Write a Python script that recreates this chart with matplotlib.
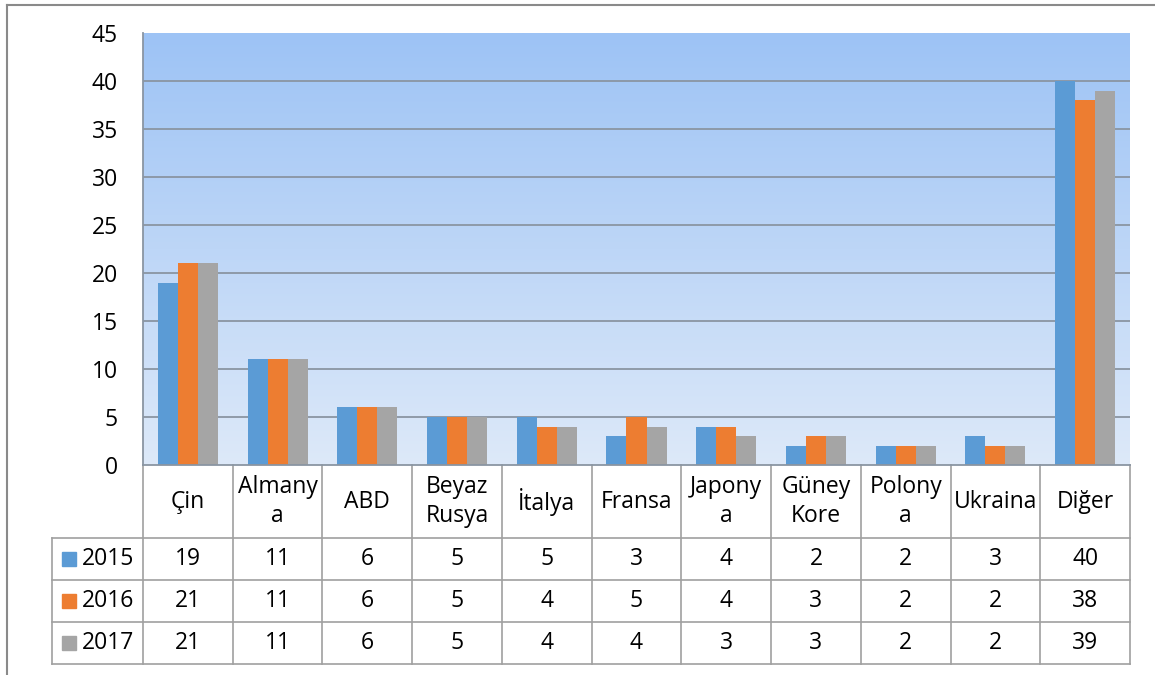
import numpy as np
import matplotlib
matplotlib.use("Agg")
import matplotlib.pyplot as plt
from matplotlib.lines import Line2D
from matplotlib.patches import Rectangle
import matplotlib.transforms as mtransforms

plt.rcParams['font.family'] = ['Open Sans', 'DejaVu Sans']

categories = ["Çin", "Almany\na", "ABD", "Beyaz\nRusya", "İtalya", "Fransa",
              "Japony\na", "Güney\nKore", "Polony\na", "Ukraina", "Diğer"]
years = ["2015", "2016", "2017"]
v2015 = [19, 11, 6, 5, 5, 3, 4, 2, 2, 3, 40]
v2016 = [21, 11, 6, 5, 4, 5, 4, 3, 2, 2, 38]
v2017 = [21, 11, 6, 5, 4, 4, 3, 3, 2, 2, 39]
series = [v2015, v2016, v2017]
colors = ["#5B9BD5", "#ED7D31", "#A5A5A5"]

FS = 16.5
W, H = 1155, 675
fig = plt.figure(figsize=(W / 100, H / 100), dpi=100)

# plot area in pixels
left, top, right, bottom = 143, 33, 1130, 465
ax = fig.add_axes([left / W, 1 - bottom / H, (right - left) / W, (bottom - top) / H])

n = len(categories)
x = np.arange(n)
ax.set_xlim(-0.5, n - 0.5)
ax.set_ylim(0, 45)

# gradient background
grad = np.linspace(0, 1, 256).reshape(-1, 1)
top_c = np.array([157, 195, 245]) / 255
bot_c = np.array([221, 233, 249]) / 255
img = top_c * (1 - grad[..., None]) + bot_c * grad[..., None]
img = np.repeat(img, 2, axis=1)
ax.imshow(img, extent=[-0.5, n - 0.5, 0, 45], aspect='auto', zorder=0)

for y in range(5, 45, 5):
    ax.axhline(y, color="#8A95A2", lw=1.3, zorder=1)

bw = 0.223
for i, (vals, c) in enumerate(zip(series, colors)):
    ax.bar(x + (i - 1) * bw, vals, width=bw, color=c, zorder=2)

for s in ["top", "right"]:
    ax.spines[s].set_visible(False)
ax.spines["left"].set_color("#8A95A2")
ax.spines["bottom"].set_color("#8A95A2")
ax.spines["left"].set_linewidth(1.3)
ax.spines["bottom"].set_linewidth(1.3)
ax.set_xticks([])
ax.set_yticks(range(0, 46, 5))
ax.tick_params(axis='y', length=0, pad=18, labelsize=FS)

# data table under the axis
trans = mtransforms.blended_transform_factory(ax.transData, ax.transAxes)
ah = bottom - top
cat_h = 73 / ah
row_h = 42 / ah
lc = "#A0A0A0"
colw = (right - left) / n
leg_left = -0.5 - 91 / colw

y_cat = -cat_h

def hline(x0, x1, yy):
    ax.add_line(Line2D([x0, x1], [yy, yy], transform=trans, color=lc, lw=1.2, clip_on=False))

def vline(xx, y0, y1):
    ax.add_line(Line2D([xx, xx], [y0, y1], transform=trans, color=lc, lw=1.2, clip_on=False))

hline(leg_left, n - 0.5, y_cat)
for k in range(len(years)):
    hline(leg_left, n - 0.5, y_cat - row_h * (k + 1))
vline(leg_left, y_cat, y_cat - row_h * len(years))
for j in range(n + 1):
    vline(j - 0.5, 0, y_cat - row_h * len(years))

for j, cat in enumerate(categories):
    ax.text(j, -cat_h / 2, cat, transform=trans, ha='center', va='center',
            fontsize=FS, linespacing=1.3, clip_on=False)

for k, (yr, vals, c) in enumerate(zip(years, series, colors)):
    yc = y_cat - row_h * (k + 0.5)
    ax.add_patch(Rectangle((leg_left + 10 / colw, yc - 7 / ah), 14 / colw, 14 / ah,
                           transform=trans, color=c, clip_on=False))
    ax.text(leg_left + 30 / colw, yc, yr, transform=trans, ha='left', va='center',
            fontsize=FS, clip_on=False)
    for j, v in enumerate(vals):
        ax.text(j, yc, str(v), transform=trans, ha='center', va='center',
                fontsize=FS, clip_on=False)

# outer chart border
fig.add_artist(Line2D([7 / W, 1], [1 - 4.5 / H, 1 - 4.5 / H], color="#8A8A8A", lw=1.5))
fig.add_artist(Line2D([7 / W, 7 / W], [0, 1 - 4.5 / H], color="#8A8A8A", lw=1.5))

fig.savefig("out.png", dpi=100)
